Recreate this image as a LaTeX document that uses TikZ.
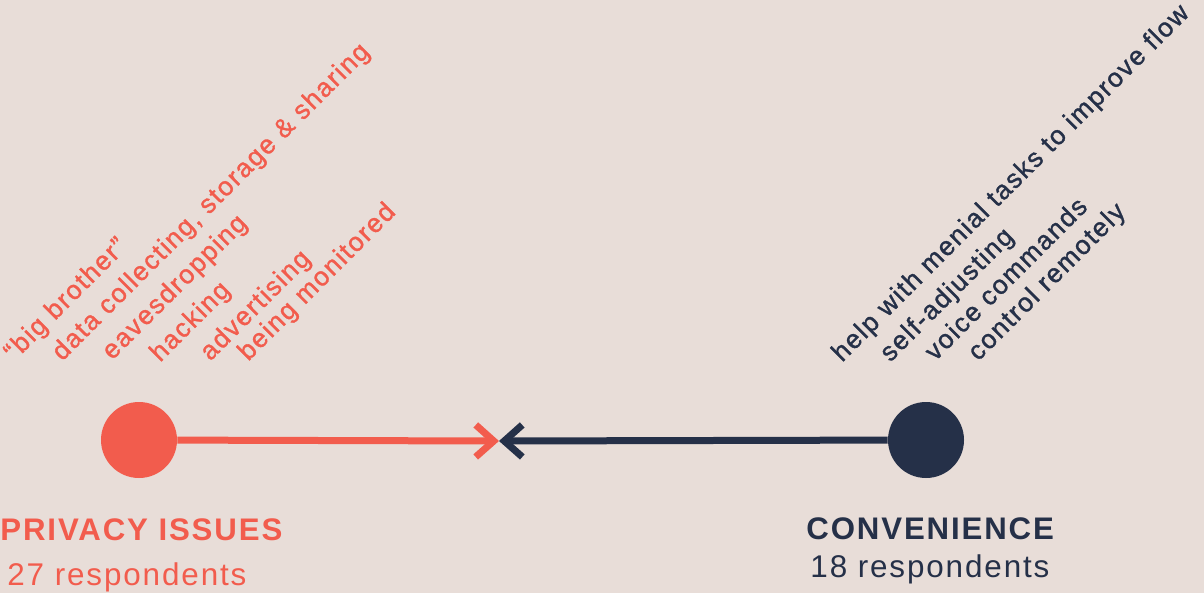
\documentclass[tikz,border=0pt]{standalone}
\usepackage{fontspec}
\setmainfont{Liberation Sans}[LetterSpace=6]
\newfontfamily\reasonfont{Liberation Sans}[LetterSpace=6, FakeBold=1.2]
\usetikzlibrary{arrows.meta}
\definecolor{page-bg}{HTML}{E8DDD8}
\definecolor{privacy-red}{HTML}{F25C4D}
\definecolor{comfort-navy}{HTML}{253048}

\begin{document}
\begin{tikzpicture}[x=0.5pt, y=-0.5pt,
    every node/.style={inner sep=0pt},
    reason/.style={anchor=base west, rotate=45, font=\reasonfont\fontsize{13.2}{15}\selectfont},
    side/.style={circle, minimum size=38pt},
    title/.style={anchor=base west, font=\fontsize{15.6}{18}\selectfont\bfseries},
    count/.style={anchor=base west, font=\fontsize{15.7}{18}\selectfont},
    chevron/.style={-{Straight Barb[length=9pt, width=16pt]}, line width=3.5pt}]
    \fill[page-bg] (0,0) rectangle (1204,593);
    \useasboundingbox (0,0) rectangle (1204,593);
    \coordinate (meet) at (499,441);
    \node[side, fill=privacy-red] (privacy) at (139,440) {};
    \node[side, fill=comfort-navy] (convenience) at (926,440) {};
    \draw[chevron, privacy-red] (privacy) -- (meet);
    \draw[chevron, comfort-navy] (convenience) -- (meet);
    \node[reason, text=privacy-red] (bigbrother) at (14,362) {“big brother”};
    \node[reason, text=privacy-red] (datacollect) at (62,362) {data collecting, storage \& sharing};
    \node[reason, text=privacy-red] (eavesdrop) at (112,361) {eavesdropping};
    \node[reason, text=privacy-red] (hacking) at (160,363) {hacking};
    \node[reason, text=privacy-red] (advertising) at (210,362) {advertising};
    \node[reason, text=privacy-red] (monitored) at (248,362) {being monitored};
    \node[reason, text=comfort-navy] (menial) at (842,363) {help with menial tasks to improve flow};
    \node[reason, text=comfort-navy] (selfadjust) at (890,363) {self-adjusting};
    \node[reason, text=comfort-navy] (voice) at (935,362) {voice commands};
    \node[reason, text=comfort-navy] (remote) at (978,362) {control remotely};
    \node[title, text=privacy-red] (privacy-title) at (0,540) {PRIVACY ISSUES};
    \node[count, text=privacy-red] (privacy-count) at (7,585) {27 respondents};
    \node[title, text=comfort-navy] (convenience-title) at (806,539) {CONVENIENCE};
    \node[count, text=comfort-navy] (convenience-count) at (810,577) {18 respondents};
  \end{tikzpicture}
\end{document}
